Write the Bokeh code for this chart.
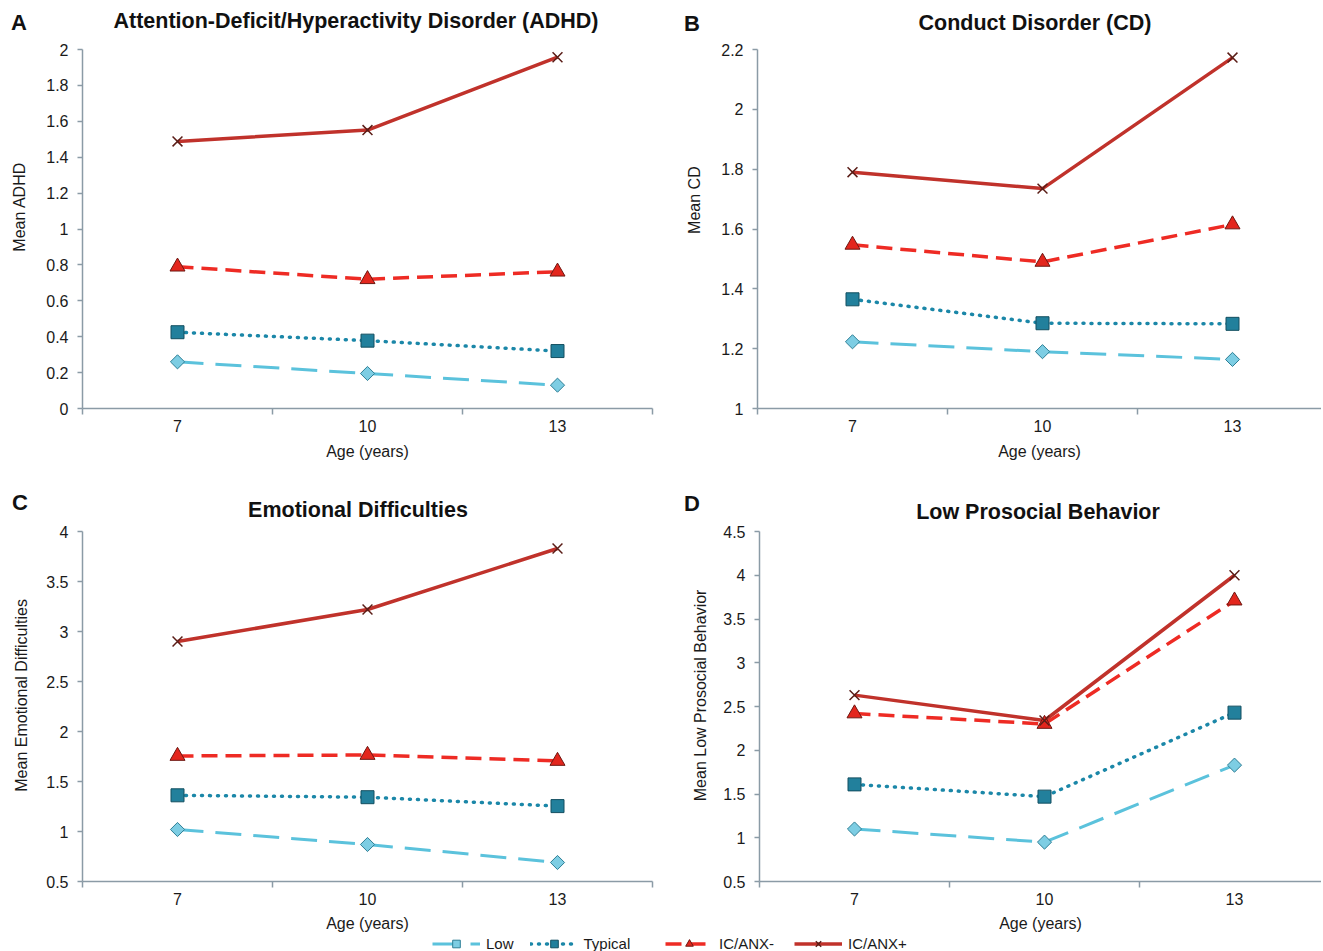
import math
from bokeh.plotting import figure
from bokeh.models import (Range1d, FixedTicker, CustomJSTickFormatter, Div,
                          Legend, LegendItem)
from bokeh.layouts import column, row
from bokeh.embed import file_html
from bokeh.resources import INLINE

# ---------------- data ----------------
ages = [7, 10, 13]
series_names = ["Low", "Typical", "IC/ANX-", "IC/ANX+"]

adhd_low = [0.26, 0.195, 0.13]
adhd_typical = [0.425, 0.378, 0.32]
adhd_icanx_neg = [0.79, 0.72, 0.762]
adhd_icanx_pos = [1.488, 1.551, 1.957]

cd_low = [1.223, 1.19, 1.164]
cd_typical = [1.365, 1.285, 1.283]
cd_icanx_neg = [1.547, 1.49, 1.615]
cd_icanx_pos = [1.79, 1.735, 2.173]

emo_low = [1.02, 0.87, 0.69]
emo_typical = [1.362, 1.343, 1.254]
emo_icanx_neg = [1.755, 1.765, 1.705]
emo_icanx_pos = [2.9, 3.22, 3.83]

pro_low = [1.1, 0.95, 1.83]
pro_typical = [1.61, 1.47, 2.43]
pro_icanx_neg = [2.42, 2.3, 3.71]
pro_icanx_pos = [2.63, 2.34, 4.0]

yticks_adhd = [0, 0.2, 0.4, 0.6, 0.8, 1, 1.2, 1.4, 1.6, 1.8, 2]
yticks_cd = [1, 1.2, 1.4, 1.6, 1.8, 2, 2.2]
yticks_emo = [0.5, 1, 1.5, 2, 2.5, 3, 3.5, 4]
yticks_pro = [0.5, 1, 1.5, 2, 2.5, 3, 3.5, 4, 4.5]

xticks = [7, 10, 13]
xboundaries = [5.5, 8.5, 11.5, 14.5]

titles = ["Attention-Deficit/Hyperactivity Disorder (ADHD)", "Conduct Disorder (CD)",
          "Emotional Difficulties", "Low Prosocial Behavior"]
letters = ["A", "B", "C", "D"]
ylabels = ["Mean ADHD", "Mean CD", "Mean Emotional Difficulties", "Mean Low Prosocial Behavior"]
xlabel = "Age (years)"

# ---------------- styles ----------------
FONT = "Liberation Sans"
AXIS_COLOR = "#8b9ba6"
NB = "\u00a0"
STYLES = {
    "Low": dict(line_color="#5bc2dc", line_dash="26 12", line_width=3,
                marker="square", angle=math.pi / 4, size=10,
                fill_color="#7dcde3", mline="#2e7f96", mwidth=1),
    "Typical": dict(line_color="#1b87a8", line_dash="1 7", line_width=3.5,
                    marker="square", angle=0, size=13,
                    fill_color="#22809c", mline="#134f60", mwidth=1),
    "IC/ANX-": dict(line_color="#ee2b24", line_dash="16 8", line_width=3.5,
                    marker="triangle", angle=0, size=15,
                    fill_color="#e3261d", mline="#6e1812", mwidth=1),
    "IC/ANX+": dict(line_color="#c0322b", line_dash="solid", line_width=3.5,
                    marker="x", angle=0, size=14,
                    fill_color="#5a1d17", mline="#5a1d17", mwidth=1.5),
}


def draw_all(p, values):
    rends = {}
    for name, vals in zip(series_names, values):
        st = STYLES[name]
        rends[name] = [p.line(ages, vals, line_color=st["line_color"],
                              line_width=st["line_width"], line_dash=st["line_dash"],
                              line_cap="round" if name == "Typical" else "butt")]
    for name, vals in zip(series_names, values):
        st = STYLES[name]
        rends[name].append(p.scatter(ages, vals, marker=st["marker"], size=st["size"],
                                     angle=st["angle"], fill_color=st["fill_color"],
                                     line_color=st["mline"], line_width=st["mwidth"]))
    return rends


def make_panel(idx, values, yticks, y0, y1, x1, fw, fh, bl, br, bt, bb,
               ylab_pad, ylab_standoff, xlab_standoff):
    p = figure(title=None, frame_width=fw, frame_height=fh,
               min_border_left=bl, min_border_right=br,
               min_border_top=bt, min_border_bottom=bb,
               x_range=Range1d(5.5, x1), y_range=Range1d(y0, y1),
               output_backend="svg", toolbar_location=None,
               background_fill_color="white", border_fill_color="white")
    p.outline_line_color = None
    p.grid.visible = False

    xa = p.xaxis[0]
    xa.ticker = FixedTicker(ticks=xticks, minor_ticks=xboundaries)
    xa.major_tick_out = 0
    xa.major_tick_in = 0
    xa.minor_tick_out = 6
    xa.minor_tick_in = 0
    xa.minor_tick_line_color = AXIS_COLOR
    xa.minor_tick_line_width = 1.5
    xa.axis_line_color = AXIS_COLOR
    xa.axis_line_width = 1.5
    xa.major_label_standoff = 5
    xa.axis_label = xlabel
    xa.axis_label_standoff = xlab_standoff

    ya = p.yaxis[0]
    ya.ticker = FixedTicker(ticks=yticks)
    ya.formatter = CustomJSTickFormatter(code="return tick.toString();")
    ya.major_tick_out = 5
    ya.major_tick_in = 0
    ya.minor_tick_out = 0
    ya.minor_tick_in = 0
    ya.major_tick_line_color = AXIS_COLOR
    ya.major_tick_line_width = 1.5
    ya.axis_line_color = AXIS_COLOR
    ya.axis_line_width = 1.5
    ya.major_label_standoff = 9
    ya.axis_label = NB * ylab_pad + ylabels[idx]
    ya.axis_label_standoff = ylab_standoff

    for ax in (xa, ya):
        ax.major_label_text_font = FONT
        ax.major_label_text_font_size = "16px"
        ax.major_label_text_color = "#1a1a1a"
        ax.axis_label_text_font = FONT
        ax.axis_label_text_font_size = "16px"
        ax.axis_label_text_font_style = "normal"
        ax.axis_label_text_color = "#1a1a1a"

    draw_all(p, values)
    return p


PX_PER_YEAR = 190 / 3
vals_A = [adhd_low, adhd_typical, adhd_icanx_neg, adhd_icanx_pos]
vals_B = [cd_low, cd_typical, cd_icanx_neg, cd_icanx_pos]
vals_C = [emo_low, emo_typical, emo_icanx_neg, emo_icanx_pos]
vals_D = [pro_low, pro_typical, pro_icanx_neg, pro_icanx_pos]

pA = make_panel(0, vals_A, yticks_adhd, 0, 2, 14.5, 570, 359, 82, 8, 11, 78, 10, 15, 8)
pB = make_panel(1, vals_B, yticks_cd, 1, 2.2, 5.5 + 564 / PX_PER_YEAR, 564, 359, 97, 0, 11, 78,
                13, 15, 8)
pC = make_panel(2, vals_C, yticks_emo, 0.5, 4, 14.5, 570, 350, 82, 8, 10, 52, 5, 13, 7)
pD = make_panel(3, vals_D, yticks_pro, 0.5, 4.5, 5.5 + 562 / PX_PER_YEAR, 562, 350, 99, 0, 11, 51,
                5, 11, 7)


def header(height, items):
    parts = ['<div style="position:relative;width:1321px;height:%dpx;'
             'font-family:\'Liberation Sans\';font-weight:bold;color:#111;">' % height]
    for kind, text, x, top in items:
        if kind == "letter":
            parts.append('<div style="position:absolute;left:%dpx;top:%dpx;font-size:22px;'
                         'line-height:22px;white-space:nowrap;">%s</div>' % (x, top, text))
        else:
            parts.append('<div style="position:absolute;left:%dpx;width:640px;top:%dpx;'
                         'text-align:center;font-size:21.5px;line-height:21.5px;'
                         'white-space:nowrap;">%s</div>' % (x - 320, top, text))
    parts.append('</div>')
    return Div(text="".join(parts), width=1321, height=height, margin=0)


top_header = header(38, [("letter", letters[0], 11, 12), ("title", titles[0], 356, 11),
                         ("letter", letters[1], 684, 13), ("title", titles[1], 1035, 13)])
bottom_header = header(34, [("letter", letters[2], 12, 6), ("title", titles[2], 358, 14),
                            ("letter", letters[3], 684, 7), ("title", titles[3], 1038, 16)])

# legend strip: renderers hold the panel-D series but the ranges keep them out of view
pL = figure(title=None, width=1321, height=19, min_border=0,
            x_range=Range1d(0, 1), y_range=Range1d(-10, -9),
            x_axis_type=None, y_axis_type=None,
            output_backend="svg", toolbar_location=None,
            background_fill_color="white", border_fill_color="white")
pL.outline_line_color = None
pL.grid.visible = False
leg_r = draw_all(pL, vals_D)


def add_legend(p, names, loc, spacing):
    items = [LegendItem(label=n, renderers=leg_r[n]) for n in names]
    lg = Legend(items=items, location=loc, orientation="horizontal",
                border_line_color=None, background_fill_alpha=0,
                padding=0, margin=0, spacing=spacing,
                glyph_width=48, glyph_height=19, label_height=19,
                label_standoff=6, label_text_font=FONT,
                label_text_font_size="15px", label_text_color="#1a1a1a")
    p.add_layout(lg)


add_legend(pL, ["Low", "Typical"], (432, 0), 16)
add_legend(pL, ["IC/ANX-", "IC/ANX+"], (665, 0), 20)

layout = column(top_header, row(pA, pB), bottom_header, row(pC, pD), pL)
open("out.html", "w").write(file_html(layout, INLINE))
